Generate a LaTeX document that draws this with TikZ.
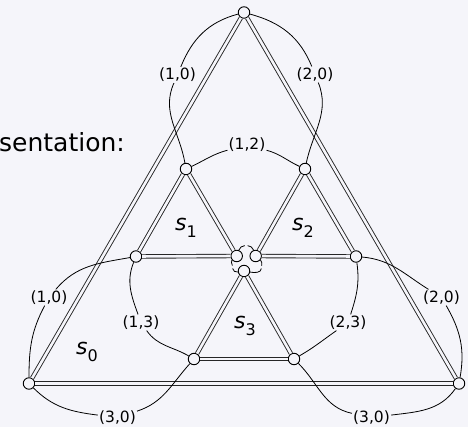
\documentclass[tikz,border=0pt]{standalone}
\usepackage{fontspec}
\setmainfont{DejaVu Sans}
\definecolor{bg}{RGB}{245,245,250}
\newcommand{\labfont}{\fontsize{15.5}{18}\selectfont}
\newcommand{\slab}[1]{{\fontsize{22}{26}\selectfont\itshape s\raisebox{-0.3em}{\fontsize{16}{18}\selectfont\upshape #1}}}
\tikzset{
  vx/.style={circle,draw,fill=bg,minimum size=11.5pt,inner sep=0pt,line width=0.9pt},
  dbl/.style={draw=black!85,double=bg,double distance=2.6pt,line width=0.9pt},
  arcl/.style={line width=0.8pt},
  lab/.style={font=\labfont,inner sep=1pt},
  gapn/.style={inner sep=0pt,minimum size=2.5pt},
}
\begin{document}
\begin{tikzpicture}[x=1pt,y=-1pt]
\useasboundingbox[fill=bg] (0,0) rectangle (468,427);
\node[anchor=base east,font=\fontsize{25}{30}\selectfont,inner sep=0pt] (title) at (125,151.5) {Representation:};
% vertices
\node[vx] (T) at (244,12.5) {};
\node[vx] (BL) at (29,383.5) {};
\node[vx] (BR) at (459,383.5) {};
\node[vx] (A) at (186,169) {};
\node[vx] (B) at (305,169) {};
\node[vx] (C) at (136,256.5) {};
\node[vx] (D) at (356,256.5) {};
\node[vx] (G1) at (236.7,256) {};
\node[vx] (G2) at (255.7,256) {};
\node[vx] (G3) at (244,271) {};
\node[vx] (E) at (194,359) {};
\node[vx] (F) at (294,359) {};
% face labels
\node (s0) at (87,352) {\slab{0}};
\node (s1) at (186,228) {\slab{1}};
\node (s2) at (303,228) {\slab{2}};
\node (s3) at (245,326) {\slab{3}};
% double edges
\draw[dbl] (T) -- (BL);
\draw[dbl] (T) -- (BR);
\draw[dbl] (BL) -- (BR);
\draw[dbl] (A) -- (C);
\draw[dbl] (A) -- (G1);
\draw[dbl] (C) -- (G1);
\draw[dbl] (B) -- (G2);
\draw[dbl] (B) -- (D);
\draw[dbl] (G2) -- (D);
\draw[dbl] (G3) -- (E);
\draw[dbl] (G3) -- (F);
\draw[dbl] (E) -- (F);
% edge labels
\node[lab] (l10a) at (177.5,75) {(1,0)};
\node[lab] (l20a) at (315,74.5) {(2,0)};
\node[lab] (l12) at (247,145) {(1,2)};
\node[lab] (l10b) at (49,297.5) {(1,0)};
\node[lab] (l13) at (141,322.5) {(1,3)};
\node[lab] (l30a) at (117.5,417.5) {(3,0)};
\node[lab] (l20b) at (441.5,297.5) {(2,0)};
\node[lab] (l23) at (348,322.5) {(2,3)};
\node[lab] (l30b) at (371.5,417.5) {(3,0)};
\node[gapn] (c12) at (246.2,245.5) {};
\node[gapn] (c13) at (232.5,267) {};
\node[gapn] (c23) at (261.5,267) {};
% arcs
\draw[arcl] (T) to[out=195,in=68] (l10a);
\draw[arcl] (l10a) to[out=246,in=100] (A);
\draw[arcl] (T) to[out=-15,in=112] (l20a);
\draw[arcl] (l20a) to[out=-68,in=78] (B);
\draw[arcl] (A) to[out=25,in=195] (l12);
\draw[arcl] (l12) to[out=-15,in=155] (B);
\draw[arcl] (C) to[out=190,in=50] (l10b);
\draw[arcl] (l10b) to[out=242,in=90] (BL);
\draw[arcl] (C) to[out=248,in=110] (l13);
\draw[arcl] (l13) to[out=-55,in=150] (E);
\draw[arcl] (BL) to[out=-45,in=173] (l30a);
\draw[arcl] (l30a) to[out=18,in=228] (E);
\draw[arcl] (D) to[out=-5,in=148] (l20b);
\draw[arcl] (l20b) to[out=-60,in=80] (BR);
\draw[arcl] (D) to[out=-82,in=72] (l23);
\draw[arcl] (l23) to[out=215,in=30] (F);
\draw[arcl] (BR) to[out=235,in=7] (l30b);
\draw[arcl] (l30b) to[out=168,in=-45] (F);
\draw[arcl] (G1) to[out=70,in=185] (c12);
\draw[arcl] (c12) to[out=-5,in=110] (G2);
\draw[arcl] (G1) to[out=220,in=95] (c13);
\draw[arcl] (c13) to[out=-85,in=190] (G3);
\draw[arcl] (G2) to[out=-40,in=85] (c23);
\draw[arcl] (c23) to[out=-95,in=-10] (G3);
\end{tikzpicture}
\end{document}
